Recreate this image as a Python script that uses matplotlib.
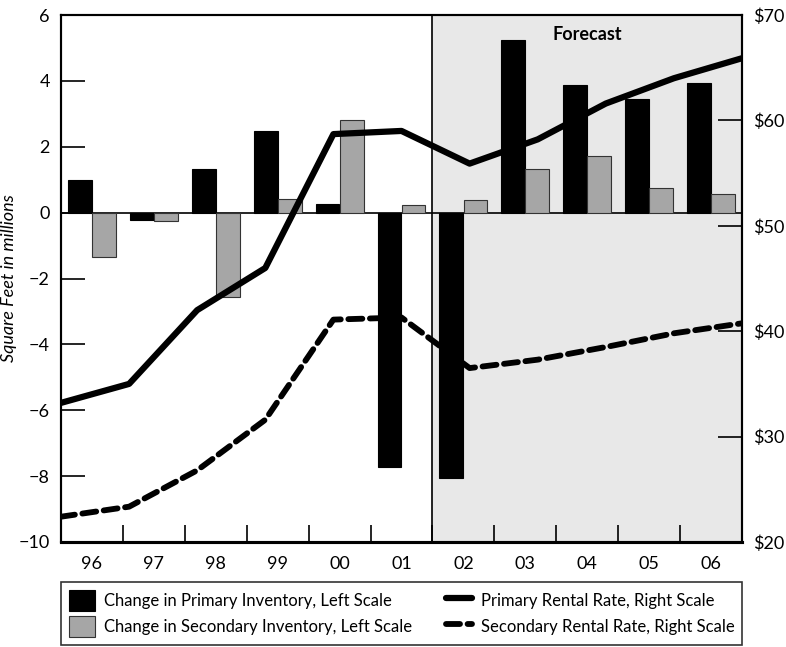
import matplotlib.pyplot as plt
import numpy as np

years = ['96', '97', '98', '99', '00', '01', '02', '03', '04', '05', '06']
primary_inv = [1.0, -0.22, 1.33, 2.48, 0.26, -7.73, -8.07, 5.24, 3.88, 3.44, 3.95]
secondary_inv = [-1.35, -0.25, -2.55, 0.4, 2.8, 0.22, 0.38, 1.33, 1.73, 0.76, 0.56]
primary_rate = [33.2, 35.0, 42.0, 46.0, 58.7, 59.0, 55.9, 58.2, 61.6, 64.0, 65.9]
secondary_rate = [22.4, 23.35, 26.8, 31.6, 41.1, 41.3, 36.5, 37.3, 38.5, 39.8, 40.75]
forecast_start = 6  # index of first forecast year

plt.rcParams['font.family'] = ['Lato', 'DejaVu Sans']

fig = plt.figure(figsize=(7.86, 6.47), dpi=100)
ax = fig.add_axes([61 / 786, 1 - 542 / 647, 681 / 786, 527 / 647])

x = np.arange(len(years))
w = 0.385
ax.axvspan(forecast_start - 0.5, len(years) - 0.5, color='#e8e8e8', zorder=0)
ax.axvline(forecast_start - 0.5, color='black', lw=1.2, zorder=1)
ax.axhline(0, color='black', lw=1.2, zorder=1)
b1 = ax.bar(x - 0.195, primary_inv, w, color='black', edgecolor='black', lw=0.8, zorder=2,
            label='Change in Primary Inventory, Left Scale')
b2 = ax.bar(x + 0.195, secondary_inv, w, color='#a6a6a6', edgecolor='#333333', lw=0.8, zorder=2,
            label='Change in Secondary Inventory, Left Scale')

ax.set_xlim(-0.5, len(years) - 0.5)
ax.set_ylim(-10, 6)
ax.set_yticks(range(-10, 7, 2))
ax.set_xticks(x)
ax.set_xticklabels(years)
ax.set_xticks(x[:-1] + 0.5, minor=True)
ax.tick_params(axis='x', which='major', length=0, labelsize=13, pad=10)
ax.tick_params(axis='x', which='minor', direction='in', length=12, width=1.2)
ax.tick_params(axis='y', direction='in', length=17, width=1.2, labelsize=13, pad=8)
ax.set_ylabel('Square Feet in millions', fontsize=13, style='italic')
ax.yaxis.set_label_coords(-0.064, 0.5)
for s in ax.spines.values():
    s.set_linewidth(1.5)
ax.spines['bottom'].set_linewidth(2.2)

ax2 = ax.twinx()
ax2.set_ylim(20, 70)
ax2.set_yticks(range(20, 71, 10))
ax2.set_yticklabels(['$%d' % v for v in range(20, 71, 10)])
ax2.tick_params(axis='y', direction='in', length=17, width=1.2, labelsize=13, pad=8)
xl = np.linspace(-0.5, len(years) - 0.5, len(years))
l1, = ax2.plot(xl, primary_rate, color='black', lw=4.5, solid_capstyle='round',
               label='Primary Rental Rate, Right Scale')
l2, = ax2.plot(xl, secondary_rate, color='black', lw=4.2, ls=(0, (2.4, 1.3)),
               dash_capstyle='round', label='Secondary Rental Rate, Right Scale')
ax2.set_xlim(-0.5, len(years) - 0.5)
for s in ax2.spines.values():
    s.set_linewidth(1.5)
ax2.spines['bottom'].set_linewidth(2.2)

ax.text((forecast_start - 0.5 + len(years) - 0.5) / 2, 5.4, 'Forecast', fontsize=13,
        fontweight='bold', ha='center', va='center')

leg = fig.legend(handles=[b1, b2, l1, l2], ncol=2, loc='upper left',
                 bbox_to_anchor=(61 / 786, 0, 681 / 786, 1 - 582 / 647), mode='expand',
                 fontsize=12, frameon=True, fancybox=False, edgecolor='black',
                 handlelength=1.6, handleheight=1.6, borderpad=0.45, labelspacing=0.3,
                 handletextpad=0.5, borderaxespad=0, columnspacing=1.5)
leg.get_frame().set_linewidth(1.2)

fig.savefig('out.png', dpi=100)
